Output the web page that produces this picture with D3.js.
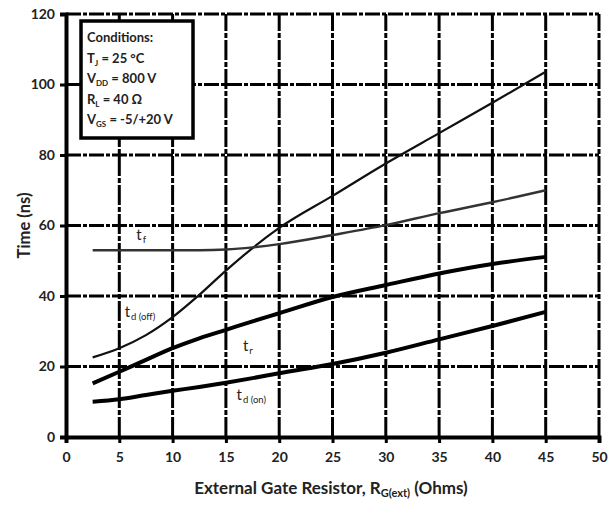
<!DOCTYPE html>
<html>
<head>
<meta charset="utf-8">
<script src="https://cdn.jsdelivr.net/npm/d3@7"></script>
<style>
  html, body { margin: 0; padding: 0; background: #fff; }
  svg { display: block; }
  text { font-family: Lato, "Open Sans", sans-serif; fill: #222; }
</style>
</head>
<body>
<svg id="chart" width="609" height="505"></svg>
<script>
// Switching time vs. external gate resistance
const rg = [2.5, 5, 7.5, 10, 12.5, 15, 17.5, 20, 25, 30, 35, 40, 45];
const tdOff = [22.6, 25.2, 28.9, 34, 40.3, 47.2, 53.6, 59.3, 68.4, 77.6, 86.2, 94.8, 103.6];
const tFall = [53, 53, 53, 53, 53, 53.2, 53.8, 54.7, 57.3, 60.1, 63.5, 66.6, 70];
const tRise = [15.2, 18.5, 21.9, 25.2, 28, 30.4, 32.8, 35.1, 39.7, 43.1, 46.4, 49.1, 51.1];
const tdOn = [10, 10.7, 11.9, 13.1, 14.2, 15.4, 16.7, 18.1, 20.7, 23.9, 27.7, 31.5, 35.5];

const xTicks = [0, 5, 10, 15, 20, 25, 30, 35, 40, 45, 50];
const yTicks = [0, 20, 40, 60, 80, 100, 120];

const conditions = [
  { main: "Conditions:", sub: "", rest: "" },
  { main: "T", sub: "J", rest: " = 25 °C" },
  { main: "V", sub: "DD", rest: " = 800 V" },
  { main: "R", sub: "L", rest: " = 40 Ω" },
  { main: "V", sub: "GS", rest: " = -5/+20 V" }
];

const svg = d3.select("#chart");
const plotLeft = 66, plotRight = 599, plotTop = 14, plotBottom = 437;

const x = d3.scaleLinear().domain([0, 50]).range([plotLeft, plotRight]);
const y = d3.scaleLinear().domain([0, 120]).range([plotBottom, plotTop]);

// grid: dash-dot lines
const grid = svg.append("g");
grid.selectAll("line.h").data(yTicks.filter(d => d > 0)).join("line")
  .attr("class", "h")
  .attr("x1", plotLeft).attr("x2", plotRight)
  .attr("y1", d => y(d)).attr("y2", d => y(d))
  .attr("stroke", "#000").attr("stroke-width", 3)
  .attr("stroke-dasharray", "15,2,4,2");
grid.selectAll("line.v").data(xTicks.filter(d => d > 0)).join("line")
  .attr("class", "v")
  .attr("y1", plotBottom).attr("y2", plotTop)
  .attr("x1", d => x(d)).attr("x2", d => x(d))
  .attr("stroke", "#000").attr("stroke-width", 3)
  .attr("stroke-dasharray", "20,2,5,2");

// axes
const xAxis = svg.append("g").attr("transform", `translate(0,${plotBottom})`)
  .call(d3.axisBottom(x).tickValues(xTicks).tickSize(6).tickPadding(9));
const yAxis = svg.append("g").attr("transform", `translate(${plotLeft},0)`)
  .call(d3.axisLeft(y).tickValues(yTicks).tickSize(6).tickPadding(5));
[xAxis, yAxis].forEach(a => {
  a.select(".domain").attr("stroke", "#000").attr("stroke-width", 4);
  a.selectAll(".tick line").attr("stroke", "#000").attr("stroke-width", 3);
  a.selectAll(".tick text").attr("font-size", 14).attr("font-weight", 700)
    .attr("fill", "#333").attr("font-family", "Lato, sans-serif");
});

// curves
const line = d3.line().x((d, i) => x(rg[i])).y(d => y(d)).curve(d3.curveMonotoneX);
const series = [
  { v: tdOff, w: 2.2, c: "#111" },
  { v: tFall, w: 2.4, c: "#333" },
  { v: tRise, w: 4, c: "#000" },
  { v: tdOn, w: 4, c: "#000" }
];
svg.append("g").selectAll("path").data(series).join("path")
  .attr("d", d => line(d.v))
  .attr("fill", "none")
  .attr("stroke", d => d.c)
  .attr("stroke-width", d => d.w);

// curve labels
const labels = [
  { t: "t", s: "f", x: 6.6, y: 56 },
  { t: "t", s: "d (off)", x: 5.5, y: 34 },
  { t: "t", s: "r", x: 16.6, y: 24.5 },
  { t: "t", s: "d (on)", x: 16, y: 10.5 }
];
labels.forEach(l => {
  const t = svg.append("text").attr("x", x(l.x)).attr("y", y(l.y))
    .attr("font-size", 15).attr("fill", "#333");
  t.append("tspan").text(l.t);
  t.append("tspan").attr("font-size", 9.5).attr("dy", 3).attr("dx", 1).text(l.s);
});

// conditions box
svg.append("rect").attr("x", 81).attr("y", 21).attr("width", 112).attr("height", 117)
  .attr("fill", "#fff").attr("stroke", "#000").attr("stroke-width", 3.5);
conditions.forEach((c, i) => {
  const t = svg.append("text").attr("x", 87).attr("y", 42 + i * 20.5)
    .attr("font-size", 13).attr("font-weight", 700).attr("fill", "#333");
  t.append("tspan").text(c.main);
  if (c.sub) {
    t.append("tspan").attr("font-size", 8).attr("dy", 3).text(c.sub);
    t.append("tspan").attr("dy", -3).text(c.rest);
  }
});

// axis titles
svg.append("text")
  .attr("transform", `translate(30,${(plotTop + plotBottom) / 2}) rotate(-90)`)
  .attr("text-anchor", "middle").attr("font-size", 16.5).attr("font-weight", 700)
  .attr("fill", "#333").text("Time (ns)");

const xt = svg.append("text").attr("x", 331).attr("y", 494)
  .attr("text-anchor", "middle").attr("font-size", 17).attr("font-weight", 700).attr("fill", "#333");
xt.append("tspan").text("External Gate Resistor, R");
xt.append("tspan").attr("font-size", 11).attr("dy", 3).text("G(ext)");
xt.append("tspan").attr("dy", -3).text(" (Ohms)");
</script>
</body>
</html>
